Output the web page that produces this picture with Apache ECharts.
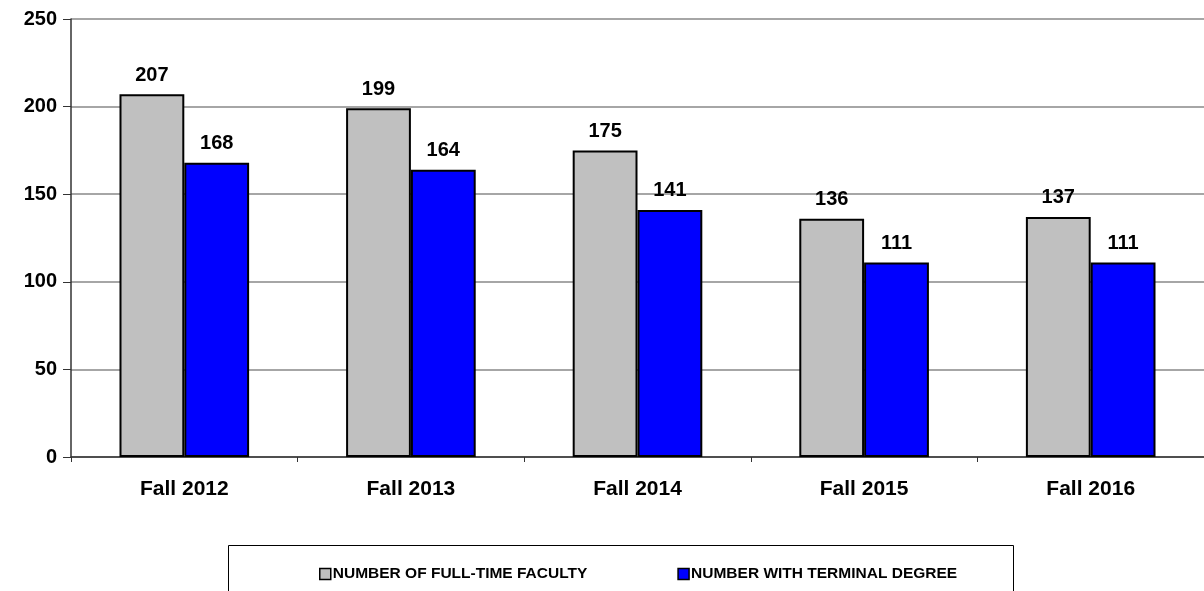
<!DOCTYPE html>
<html>
<head>
    <meta charset="utf-8">
    <title>Faculty chart</title>
    <script src="https://cdn.jsdelivr.net/npm/echarts@6/dist/echarts.min.js"></script>
</head>
<body style="margin:0;">
<div id="main" style="width: 1204px;height:591px;"></div>
<script type="text/javascript">
    var categories = ['Fall 2012', 'Fall 2013', 'Fall 2014', 'Fall 2015', 'Fall 2016'];
    var fullTime = [207, 199, 175, 136, 137];
    var terminal = [168, 164, 141, 111, 111];
    var yTicks = { min: 0, max: 250, interval: 50 };

    var myChart = echarts.init(document.getElementById('main'));
    var font = '"Liberation Sans", Arial, sans-serif';

    var option = {
        animation: false,
        textStyle: { fontFamily: font },
        grid: { left: 71, top: 19, right: -5, bottom: 134 },
        // legend box
        graphic: [{
            type: 'rect',
            shape: { x: 228.5, y: 545.5, width: 785, height: 48 },
            style: { fill: '#fff', stroke: '#000', lineWidth: 1 },
            z: 0
        }],
        legend: {
            top: 561,
            left: 314,
            itemGap: 90,
            itemWidth: 11,
            itemHeight: 11,
            icon: 'rect',
            itemStyle: { borderColor: '#000', borderWidth: 1.5 },
            textStyle: { fontFamily: font, fontSize: 15.5, fontWeight: 'bold', color: '#000', padding: [0, 0, 0, -3] },
            data: ['NUMBER OF FULL-TIME FACULTY', 'NUMBER WITH TERMINAL DEGREE']
        },
        xAxis: {
            type: 'category',
            data: categories,
            axisLine: { lineStyle: { color: '#333', width: 1.5 } },
            axisTick: { show: true, length: 5, lineStyle: { color: '#333' } },
            axisLabel: { color: '#000', fontSize: 21, fontWeight: 'bold', margin: 22 }
        },
        yAxis: {
            type: 'value',
            min: yTicks.min,
            max: yTicks.max,
            interval: yTicks.interval,
            axisLine: { show: true, lineStyle: { color: '#333', width: 1.5 } },
            axisTick: { show: true, length: 8, lineStyle: { color: '#333' } },
            axisLabel: { color: '#000', fontSize: 20, fontWeight: 'bold', margin: 14 },
            splitLine: { lineStyle: { color: '#888', width: 1.5 } }
        },
        series: [
            {
                name: 'NUMBER OF FULL-TIME FACULTY',
                type: 'bar',
                data: fullTime,
                barWidth: '28.6%',
                barGap: '0%',
                itemStyle: { color: '#c0c0c0', borderColor: '#000', borderWidth: 2 },
                label: { show: true, position: 'top', distance: 9, color: '#000', fontSize: 20, fontWeight: 'bold' }
            },
            {
                name: 'NUMBER WITH TERMINAL DEGREE',
                type: 'bar',
                data: terminal,
                barWidth: '28.6%',
                itemStyle: { color: '#0000ff', borderColor: '#000', borderWidth: 2 },
                label: { show: true, position: 'top', distance: 9, color: '#000', fontSize: 20, fontWeight: 'bold' }
            }
        ]
    };
    myChart.setOption(option);
</script>
</body>
</html>
